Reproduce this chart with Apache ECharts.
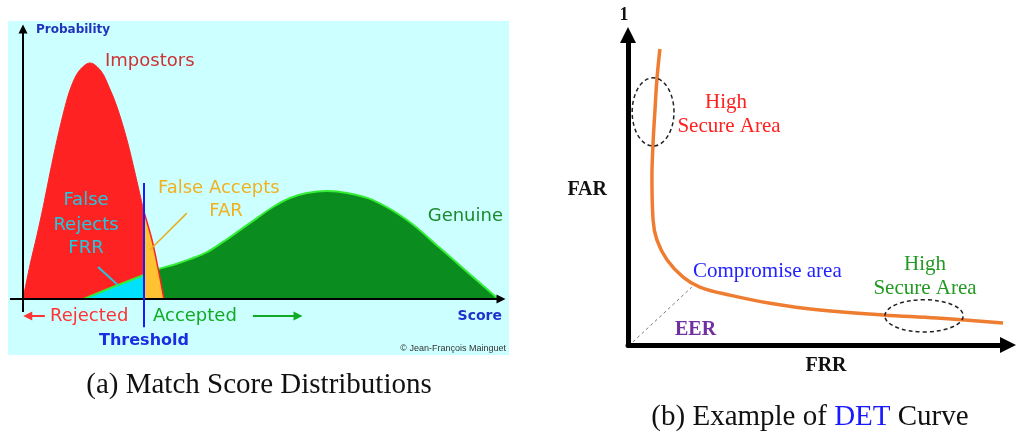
<!DOCTYPE html>
<html>
<head>
<meta charset="utf-8">
<script src="https://cdn.jsdelivr.net/npm/echarts@6/dist/echarts.min.js"></script>
<style>
  html, body { margin: 0; padding: 0; background: #ffffff; }
  #chart { width: 1024px; height: 432px; }
</style>
</head>
<body>
<div id="chart"></div>
<script>
// ---- (a) match score distributions ----
const impostorScore = [0, 1.47, 2.95, 4.42, 5.68, 7.16, 8.84, 10.11, 11.79, 14.11, 16.42, 18.11, 19.79, 21.89, 23.58, 25.47, 27.16, 28.63, 29.68];
const impostorProb  = [0, 0.144, 0.271, 0.407, 0.534, 0.674, 0.814, 0.898, 0.966, 1.0, 0.966, 0.898, 0.814, 0.674, 0.534, 0.369, 0.25, 0.11, 0];

const genuineScore = [12.63, 18.95, 25.47, 28.42, 31.58, 35.16, 38.74, 42.11, 45.68, 49.26, 52.63, 56.21, 59.79, 64.0, 68.21, 73.68, 80.84, 87.79, 94.74, 97.89, 100];
const genuineProb  = [0, 0.051, 0.102, 0.127, 0.144, 0.169, 0.199, 0.242, 0.292, 0.343, 0.39, 0.428, 0.449, 0.458, 0.449, 0.419, 0.335, 0.216, 0.093, 0.038, 0];

const threshold = 25.47;

// ---- (b) DET curve ----
const detFRR = [0.084, 0.076, 0.071, 0.066, 0.063, 0.066, 0.076, 0.103, 0.145, 0.189, 0.268, 0.374, 0.505, 0.671, 0.813, 0.987];
const detFAR = [0.955, 0.855, 0.758, 0.652, 0.542, 0.403, 0.339, 0.274, 0.219, 0.187, 0.161, 0.135, 0.113, 0.097, 0.087, 0.071];

// dashed regions of interest: [FRR centre, FAR centre, FRR half-extent, FAR half-extent]
const secureRegions = [
  [0.066, 0.752, 0.055, 0.110],
  [0.779, 0.094, 0.103, 0.052]
];
// guide from the origin to the equal-error point
const eerGuide = [[0.013, 0.010], [0.168, 0.187]];

const pairs = (xs, ys) => xs.map((x, i) => [x, ys[i]]);
const impostor = pairs(impostorScore, impostorProb);
const genuine = pairs(genuineScore, genuineProb);
const rejectedPart = pts => pts.filter(p => p[0] <= threshold);
const acceptedPart = pts => pts.filter(p => p[0] >= threshold);

const chart = echarts.init(document.getElementById('chart'), null, { renderer: 'canvas' });

function areaSeries(name, data, fill, stroke, width, smooth, z) {
  return {
    type: 'line', name, xAxisIndex: 0, yAxisIndex: 0, data, smooth, z,
    symbol: 'none', silent: true, animation: false,
    lineStyle: { color: stroke, width },
    areaStyle: { color: fill, opacity: 1 }
  };
}

function guide(name, grid, coords, color, width, extra) {
  return Object.assign({
    type: 'lines', name, coordinateSystem: 'cartesian2d',
    xAxisIndex: grid, yAxisIndex: grid,
    data: [{ coords }], silent: true, animation: false, z: 6,
    symbol: 'none',
    lineStyle: { color, width, opacity: 1, curveness: 0, type: 'solid' }
  }, extra || {});
}

function label(text, x, y, size, color, opt) {
  opt = opt || {};
  return {
    type: 'text', x, y, z: 50, silent: true,
    style: {
      text, fill: color, fontSize: size,
      fontFamily: opt.family || 'DejaVu Sans',
      fontWeight: opt.weight || 'normal',
      textAlign: opt.align || 'left',
      textVerticalAlign: 'middle',
      rich: opt.rich
    }
  };
}

const serif = 'Liberation Serif';

const option = {
  backgroundColor: '#ffffff',
  animation: false,
  grid: [
    { left: 8, top: 21, width: 501, height: 334, show: true, backgroundColor: '#ccffff', borderWidth: 0 },
    { left: 628, top: 35, width: 380, height: 310 }
  ],
  xAxis: [
    { gridIndex: 0, type: 'value', min: -3.16, max: 102.32, show: false },
    {
      gridIndex: 1, type: 'value', min: 0, max: 1,
      axisLine: { show: true, symbol: ['none', 'triangle'], symbolSize: [16, 16], lineStyle: { color: '#000', width: 5 } },
      axisTick: { show: false }, axisLabel: { show: false }, splitLine: { show: false },
      name: 'FRR', nameLocation: 'middle', nameGap: 11,
      nameTextStyle: { fontFamily: serif, fontWeight: 'bold', fontSize: 20, color: '#111', padding: [0, 0, 0, 16] }
    }
  ],
  yAxis: [
    { gridIndex: 0, type: 'value', min: -0.237, max: 1.178, show: false },
    {
      gridIndex: 1, type: 'value', min: 0, max: 1,
      axisLine: { show: true, symbol: ['none', 'triangle'], symbolSize: [16, 16], lineStyle: { color: '#000', width: 5 } },
      axisTick: { show: false }, axisLabel: { show: false }, splitLine: { show: false },
      name: 'FAR', nameLocation: 'middle', nameRotate: 0, nameGap: 21,
      nameTextStyle: { fontFamily: serif, fontWeight: 'bold', fontSize: 20, color: '#111', padding: [6, 0, 0, 0] }
    }
  ],
  series: [
    // genuine scores above the threshold (accepted)
    areaSeries('Genuine', acceptedPart(genuine), '#0b8c1f', '#33ee33', 2, 0.35, 2),
    // impostor scores below the threshold (rejected)
    areaSeries('Impostors', rejectedPart(impostor), '#ff2222', '#ff2222', 1, 0.35, 3),
    // genuine scores below the threshold: false rejects
    areaSeries('False Rejects', rejectedPart(genuine), '#00e0ff', '#33ee33', 2, false, 4),
    // impostor scores above the threshold: false accepts
    areaSeries('False Accepts', acceptedPart(impostor), '#ffc233', '#ff2222', 1.5, 0.35, 5),

    // axes of the distribution plot
    guide('score axis', 0, [[-2.74, 0], [100.63, 0]], '#000', 2, { symbol: ['none', 'triangle'], symbolSize: 9 }),
    guide('probability axis', 0, [[0, -0.055], [0, 1.144]], '#000', 2, { symbol: ['none', 'triangle'], symbolSize: 9 }),
    // decision threshold
    guide('threshold', 0, [[threshold, -0.119], [threshold, 0.492]], '#1a1aff', 2, { z: 7 }),
    // callout leaders
    guide('far leader', 0, [[34.5, 0.364], [26.7, 0.208]], '#e8b020', 1.5),
    guide('frr leader', 0, [[15.8, 0.136], [20.0, 0.059]], '#22c8e0', 2),
    // rejected / accepted direction arrows
    guide('rejected arrow', 0, [[4.6, -0.072], [1.0, -0.072]], '#ff3333', 2, { symbol: ['none', 'triangle'], symbolSize: 9 }),
    guide('accepted arrow', 0, [[48.4, -0.072], [57.9, -0.072]], '#11aa22', 2, { symbol: ['none', 'triangle'], symbolSize: 9 }),

    // DET curve
    {
      type: 'line', name: 'DET', xAxisIndex: 1, yAxisIndex: 1,
      data: pairs(detFRR, detFAR), smooth: 0.4, symbol: 'none', silent: true, z: 4,
      lineStyle: { color: '#ef7d31', width: 3.5 }
    },
    guide('EER guide', 1, eerGuide, '#777777', 1, { lineStyle: { color: '#777777', width: 1, opacity: 1, type: [3, 3] } }),
    {
      type: 'custom', name: 'secure regions', xAxisIndex: 1, yAxisIndex: 1,
      data: secureRegions, silent: true, z: 5,
      encode: { x: 0, y: 1 },
      renderItem: function (params, api) {
        const c = api.coord([api.value(0), api.value(1)]);
        const s = api.size([api.value(2), api.value(3)]);
        return {
          type: 'ellipse',
          shape: { cx: c[0], cy: c[1], rx: s[0], ry: s[1] },
          style: { fill: 'none', stroke: '#222222', lineWidth: 1.5, lineDash: [4, 3] }
        };
      }
    }
  ],
  graphic: [
    // (a) annotations
    label('Probability', 36, 30, 12, '#2233bb', { weight: 'bold' }),
    label('Impostors', 105, 61, 18, '#cc3333'),
    label('False Accepts', 158, 188, 18, '#f0b020'),
    label('FAR', 226, 211, 18, '#f0b020', { align: 'center' }),
    label('Genuine', 503, 216, 18, '#1a8a2e', { align: 'right' }),
    label('False', 86, 200, 18, '#22c8e0', { align: 'center' }),
    label('Rejects', 86, 225, 18, '#22c8e0', { align: 'center' }),
    label('FRR', 86, 248, 18, '#22c8e0', { align: 'center' }),
    label('Rejected', 50, 316, 18, '#ff3333'),
    label('Accepted', 153, 316, 18, '#11aa22'),
    label('Score', 502, 316, 14, '#2233cc', { weight: 'bold', align: 'right' }),
    label('Threshold', 144, 341, 16, '#1a2ee0', { weight: 'bold', align: 'center' }),
    label('\u00a9 Jean-Fran\u00e7ois Mainguet', 506, 349, 9, '#333333', { family: 'Liberation Sans', align: 'right' }),

    // (b) annotations
    label('1', 624, 15, 18, '#111111', { family: serif, weight: 'bold', align: 'center' }),
    label('High', 726, 102, 21, '#ff2020', { family: serif, align: 'center' }),
    label('Secure Area', 729, 126, 21, '#ff2020', { family: serif, align: 'center' }),
    label('Compromise area', 693, 271, 21, '#2222ff', { family: serif }),
    label('High', 925, 264, 21, '#229922', { family: serif, align: 'center' }),
    label('Secure Area', 925, 288, 21, '#229922', { family: serif, align: 'center' }),
    label('EER', 675, 330, 20, '#7030a0', { family: serif, weight: 'bold' }),

    // captions
    label('(a) Match Score Distributions', 259, 385, 29, '#111111', { family: serif, align: 'center' }),
    label('{t|(b) Example of }{d|DET}{t| Curve}', 810, 417, 29, '#111111', {
      family: serif, align: 'center',
      rich: {
        t: { fill: '#111111', fontFamily: serif, fontSize: 29 },
        d: { fill: '#1a1aff', fontFamily: serif, fontSize: 29 }
      }
    })
  ]
};

chart.setOption(option);
</script>
</body>
</html>
